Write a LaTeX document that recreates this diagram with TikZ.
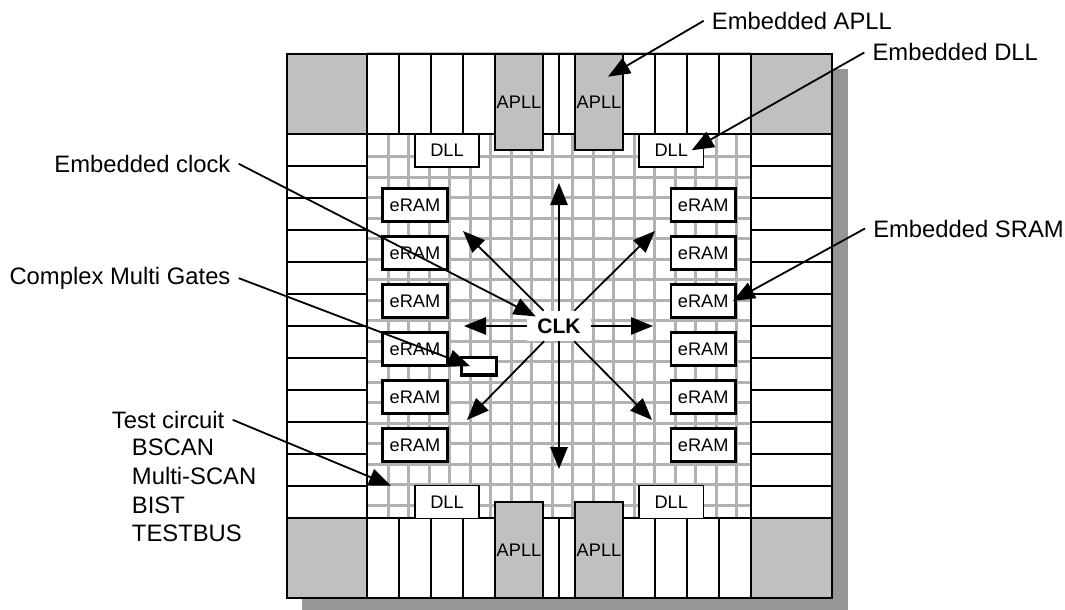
\documentclass[tikz,border=0pt]{standalone}
\usepackage{fontspec}
\setmainfont{Liberation Sans}
\usepackage{tikz}
\usetikzlibrary{arrows.meta,positioning,calc}
\definecolor{padgrey}{HTML}{C0C0C0}
\definecolor{shadowgrey}{HTML}{969696}
\definecolor{gridgrey}{HTML}{B2B2B2}

\begin{document}
\begin{tikzpicture}[
    x=0.75pt, y=-0.75pt,
    padline/.style={draw=black, line width=1.35pt},
    gridline/.style={draw=gridgrey, line width=2pt},
    dll/.style={rectangle, draw=black, line width=1.3pt, fill=white, inner sep=0pt, minimum width=48.5pt, minimum height=24.6pt, font=\fontsize{13.65}{16}\selectfont},
    eram/.style={dll, line width=2pt},
    apll/.style={dll, fill=padgrey, minimum width=36.2pt, minimum height=72.2pt},
    callout/.style={inner xsep=6pt, inner ysep=0pt, font=\fontsize{17.85}{21.5}\selectfont},
    arrow/.style={-{Triangle[length=16.5pt,width=13pt]}, line width=1.35pt}
]
\useasboundingbox (0,0) rectangle (1065,610);

% shadow, pads and corners
\fill[shadowgrey] (302,69) rectangle (848,610);
\fill[white] (287,54) rectangle (832,598);
\fill[padgrey] (287,54) rectangle (367,134);
\fill[padgrey] (751,54) rectangle (832,134);
\fill[padgrey] (287,518) rectangle (367,598);
\fill[padgrey] (751,518) rectangle (832,598);

% core grid
\draw[padgrey, line width=1.2pt] (367,52.5) -- (751,52.5);
\foreach \k in {0,...,17} {
    \draw[gridline] ({388.3+20.5*\k},134) -- ({388.3+20.5*\k},518);
    \draw[gridline] (367,{156.7+20.5*\k}) -- (751,{156.7+20.5*\k});
}

% pad cells
\foreach \x in {399,431,463,495,558.7,655,687,719} {
    \draw[padline] (\x,54) -- (\x,134);
    \draw[padline] (\x,518) -- (\x,598);
}
\foreach \y in {166,198,230,262,294,326,358,390,422,454,486} {
    \draw[padline] (287,\y) -- (367,\y);
    \draw[padline] (751,\y) -- (832,\y);
}
\draw[padline] (287,54) rectangle (832,598);
\draw[padline] (367,54) rectangle (751,598);
\draw[padline] (287,134) -- (832,134);
\draw[padline] (287,518) -- (832,518);

% blocks
\node[apll] (apllnw) at (519,102) {APLL};
\node[apll] (apllne) at (599,102) {APLL};
\node[apll] (apllsw) at (519,550) {APLL};
\node[apll] (apllse) at (599,550) {APLL};
\node[dll] (dllnw) at (447,150.3) {DLL};
\node[dll] (dllne) at (671.2,150.3) {DLL};
\node[dll] (dllsw) at (447,502) {DLL};
\node[dll] (dllse) at (671.2,502) {DLL};
\foreach \y [count=\i] in {205,253,301,349,397,445} {
    \node[eram] (eraml\i) at (415,\y) {eRAM};
    \node[eram] (eramr\i) at (703.2,\y) {eRAM};
}
\node[rectangle, draw=black, line width=2.3pt, fill=white, minimum width=25.8pt, minimum height=13.2pt, inner sep=0pt] (gates) at (478.9,366.2) {};

% clock and its fan-out
\node[rectangle, fill=white, inner sep=0pt, minimum width=48pt, minimum height=22.5pt, font=\fontsize{15.75}{18}\selectfont\bfseries] (clk) at (559,326) {CLK};
\foreach \tipname/\x/\y in {tipn/559/183, tips/559/469, tipw/464/326, tipe/653/326, tipnw/463/231, tipne/655/231, tipsw/467/420, tipse/652/420} {
    \coordinate (\tipname) at (\x,\y);
    \draw[arrow] (clk) -- (\tipname);
}

% labels
\node[callout, anchor=base west] (lblapll) at (703.7,29.3) {Embedded APLL};
\node[callout, anchor=base west] (lbldll) at (864.3,61) {Embedded DLL};
\node[callout, anchor=base west] (lblsram) at (865,237) {Embedded SRAM};
\node[callout, anchor=base east] (lblclock) at (238.7,172.3) {Embedded clock};
\node[callout, anchor=base east] (lblgates) at (238.7,284.3) {Complex Multi Gates};
\node[callout, anchor=base west] (lbltest) at (103.7,428.3) {Test circuit};
\node[callout, anchor=north west, align=left] (lbllist) at (123.7,439) {BSCAN\\Multi-SCAN\\BIST\\TESTBUS};

\coordinate (tiptest) at (391,485.7);
\draw[arrow] (lblapll.west) -- ([shift={(9,-25.3)}]apllne.center);
\draw[arrow] (lbldll.west) -- ([shift={(20.5,0)}]dllne.center);
\draw[arrow] (lblsram.west) -- ([xshift=-3pt]eramr3.east);
\draw[arrow] (lblclock.east) -- ([shift={(9,5.7)}]clk.north west);
\draw[arrow] (lblgates.east) -- ([xshift=7.5pt]gates.west);
\draw[arrow] (lbltest.east) -- (tiptest);
\end{tikzpicture}
\end{document}
